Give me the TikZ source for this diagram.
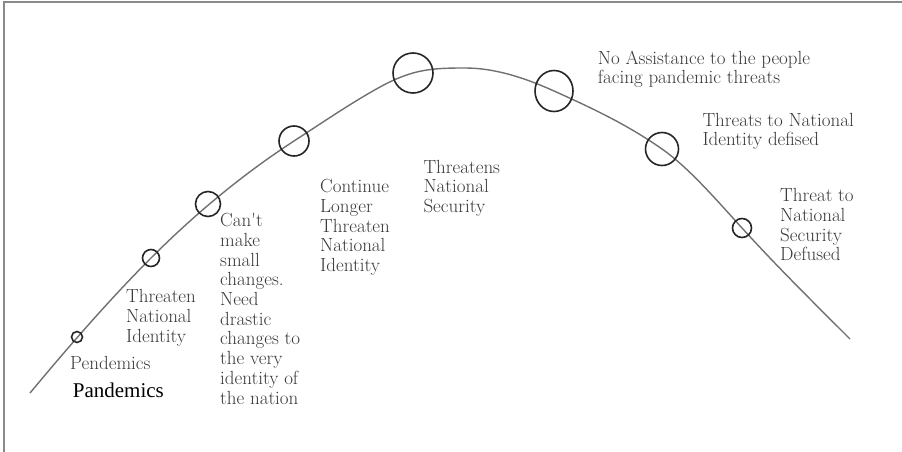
\documentclass[tikz,border=0pt]{standalone}
\usepackage{fontspec}
\newfontfamily\timesfont{Liberation Serif}
\usetikzlibrary{shapes.geometric}
\definecolor{framegray}{HTML}{8A8A8A}
\definecolor{curvegray}{HTML}{707070}
\definecolor{markerdark}{HTML}{262626}
\definecolor{textgray}{HTML}{383838}
\begin{document}
\begin{tikzpicture}[x=1pt,y=-1pt,
  frameline/.style={draw=framegray, line width=1.5pt},
  wave/.style={draw=curvegray, line width=1.4pt, line join=round},
  marker/.style={circle, draw=markerdark, line width=1.6pt, inner sep=0pt},
  oval/.style={ellipse, draw=markerdark, line width=1.6pt, inner sep=0pt},
  caption/.style={anchor=base west, inner sep=0pt, align=left, text=textgray,
    font=\fontsize{19}{19.7}\selectfont},
]
\useasboundingbox (0,0) rectangle (902,452);

% frame on the top and left edges
\coordinate (tl) at (4,2);
\coordinate (tr) at (902,2);
\coordinate (bl) at (4,452);
\draw[frameline] (tr) -- (tl) -- (bl);

% knots of the rise and fall curve
\coordinate (s0) at (30,393);
\coordinate (s1) at (77,337);
\coordinate (s2) at (151,258);
\coordinate (s3) at (208,204);
\coordinate (s4) at (294,141);
\coordinate (k1) at (380,87);
\coordinate (s5) at (413,73);
\coordinate (top) at (465,68);
\coordinate (s6) at (554,91);
\coordinate (s7) at (662,149);
\coordinate (s8) at (742,228);
\coordinate (s9) at (850,339);

% piecewise cubic with matching tangents at every knot
\draw[wave] (s0) .. controls (70.3,344.6) and (110.7,298.3) .. (s2)
  .. controls (198.7,210.3) and (246.3,172.0) .. (s4)
  .. controls (322.7,122.4) and (351.3,102.8) .. (k1)
  .. controls (391,80.95) and (402,76.1) .. (s5)
  .. controls (430.3,68.15) and (447.7,68) .. (top)
  .. controls (494.7,68) and (524.3,77.6) .. (s6)
  .. controls (590,107.2) and (626,123.8) .. (s7)
  .. controls (688.7,167.7) and (715.3,198.7) .. (s8)
  .. controls (778,267.6) and (814,303) .. (s9);

% stage markers along the curve
\node[marker, minimum size=11pt] (c1) at (s1) {};
\node[marker, minimum size=17pt] (c2) at (s2) {};
\node[marker, minimum size=25pt] (c3) at (s3) {};
\node[marker, minimum size=30pt] (c4) at (s4) {};
\node[marker, minimum size=40pt] (c5) at (s5) {};
\node[oval, minimum width=38pt, minimum height=41pt] (c6) at (s6) {};
\node[marker, minimum size=33pt] (c7) at (s7) {};
\node[marker, minimum size=19pt] (c8) at (s8) {};

% stage captions (each anchored at the baseline of its last line)
\node[caption] (t1) at (70,369.3) {Pendemics};
\node[anchor=base west, inner sep=0pt, text=black,
      font=\timesfont\fontsize{21}{24}\selectfont] (t2) at (72.7,397.7) {Pandemics};
\node[caption] (t3) at (126,342.1) {Threaten\\National\\Identity};
\node[caption] (t4) at (220,404) {Can\textquotesingle t\\make\\small\\changes.\\Need\\drastic\\changes to\\the very\\identity of\\the nation};
\node[caption] (t5) at (320,271.5) {Continue\\Longer\\Threaten\\National\\Identity};
\node[caption] (t6) at (423.3,212.5) {Threatens\\National\\Security};
\node[caption] (t7) at (597.7,84) {No Assistance to the people\\facing pandemic threats};
\node[caption] (t8) at (702.3,145.7) {Threats to National\\Identity defised};
\node[caption] (t9) at (780,260.8) {Threat to\\National\\Security\\Defused};
\end{tikzpicture}
\end{document}
